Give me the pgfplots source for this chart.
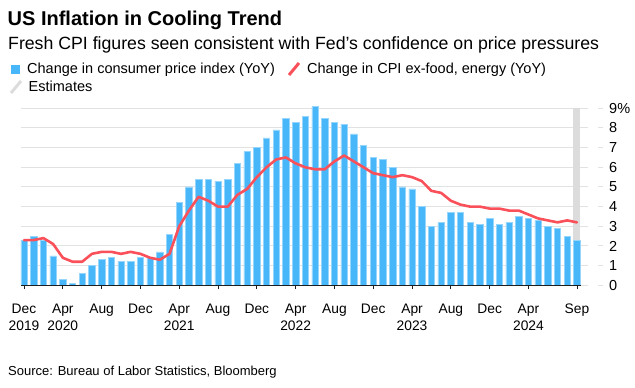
\documentclass[border=0pt]{standalone}
\usepackage{pgfplots}
\pgfplotsset{compat=1.18}
\usepackage{pgfplotstable}
\usepackage{fontspec}
\setmainfont{Liberation Sans}

\definecolor{cpiblue}{RGB}{72,183,250}
\definecolor{cpiedge}{RGB}{150,214,252}
\definecolor{corered}{RGB}{250,80,90}
\definecolor{estgrey}{RGB}{220,220,220}
\definecolor{gridgrey}{RGB}{226,226,226}
\definecolor{axisdark}{RGB}{30,30,30}

\pgfplotstableread{
i cpi core
0 2.3 2.3
1 2.5 2.3
2 2.3 2.4
3 1.5 2.1
4 0.3 1.4
5 0.1 1.2
6 0.6 1.2
7 1.0 1.6
8 1.3 1.7
9 1.4 1.7
10 1.2 1.6
11 1.2 1.7
12 1.4 1.6
13 1.4 1.4
14 1.7 1.3
15 2.6 1.6
16 4.2 3.0
17 5.0 3.8
18 5.4 4.5
19 5.4 4.3
20 5.3 4.0
21 5.4 4.0
22 6.2 4.6
23 6.8 4.9
24 7.0 5.5
25 7.5 6.0
26 7.9 6.4
27 8.5 6.5
28 8.3 6.2
29 8.6 6.0
30 9.1 5.9
31 8.5 5.9
32 8.3 6.3
33 8.2 6.6
34 7.7 6.3
35 7.1 6.0
36 6.5 5.7
37 6.4 5.6
38 6.0 5.5
39 5.0 5.6
40 4.9 5.5
41 4.0 5.3
42 3.0 4.8
43 3.2 4.7
44 3.7 4.3
45 3.7 4.1
46 3.2 4.0
47 3.1 4.0
48 3.4 3.9
49 3.1 3.9
50 3.2 3.8
51 3.5 3.8
52 3.4 3.6
53 3.3 3.4
54 3.0 3.3
55 2.9 3.2
56 2.5 3.3
57 2.3 3.2
}\datatable

\pgfplotstableread{
i est
57 9
}\esttable

\newcommand{\ydash}{\textcolor{gridgrey}{\rule[4.6bp]{5bp}{1bp}}\hspace{6bp}}

\begin{document}
\begin{tikzpicture}
\path[use as bounding box] (0,0) rectangle (635bp,-388bp);

\node[anchor=base west, inner sep=0pt] at (7.5bp,-25bp) {\fontsize{20bp}{24bp}\selectfont\bfseries US Inflation in Cooling Trend};
\node[anchor=base west, inner sep=0pt] at (8bp,-49.5bp) {\fontsize{17.7bp}{21bp}\selectfont Fresh CPI figures seen consistent with Fed’s confidence on price pressures};

\fill[cpiblue] (11bp,-73.5bp) rectangle (20bp,-64.5bp);
\node[anchor=base west, inner sep=0pt] at (27bp,-73.3bp) {\fontsize{14.5bp}{17bp}\selectfont Change in consumer price index (YoY)};
\draw[corered, line width=3bp] (289bp,-75bp) -- (299bp,-63bp);
\node[anchor=base west, inner sep=0pt] at (307bp,-73.3bp) {\fontsize{14.5bp}{17bp}\selectfont Change in CPI ex-food, energy (YoY)};
\draw[estgrey, line width=3bp] (11bp,-93bp) -- (21bp,-81bp);
\node[anchor=base west, inner sep=0pt] at (28.5bp,-91bp) {\fontsize{14.5bp}{17bp}\selectfont Estimates};

\node[anchor=base west, inner sep=0pt] at (8bp,-375bp) {\fontsize{13bp}{16bp}\selectfont Source: Bureau of Labor Statistics, Bloomberg};

\begin{axis}[
  at={(21bp,-285.3bp)}, anchor=south west,
  scale only axis, width=567bp, height=177bp,
  xmin=-0.31, xmax=58.14, ymin=0, ymax=9,
  clip=false,
  axis line style={draw=none},
  ymajorgrids, major grid style={gridgrey, line width=1bp},
  ytick={0,1,2,3,4,5,6,7,8,9},
  yticklabels={\ydash 0,\ydash 1,\ydash 2,\ydash 3,\ydash 4,\ydash 5,\ydash 6,\ydash 7,\ydash 8,\ydash 9\%},
  yticklabel pos=right,
  ytick style={draw=none},
  yticklabel style={anchor=west, inner sep=0pt, xshift=6bp, font=\fontsize{14.5bp}{17bp}\selectfont},
  xtick={0,4,8,12,16,20,24,28,32,36,40,44,48,52,57},
  xticklabels={Dec\\2019,Apr\\2020,Aug\\\phantom{0},Dec\\\phantom{0},Apr\\2021,Aug\\\phantom{0},Dec\\\phantom{0},Apr\\2022,Aug\\\phantom{0},Dec\\\phantom{0},Apr\\2023,Aug\\\phantom{0},Dec\\\phantom{0},Apr\\2024,Sep\\\phantom{0}},
  xtick pos=left,
  xtick style={axisdark, line width=0.8bp},
  tick align=outside, major tick length=4bp,
  xticklabel style={align=center, anchor=north, inner sep=0pt, yshift=-14.3bp, font=\fontsize{13.8bp}{17.5bp}\selectfont},
  bar width=6.4bp, bar shift=0pt,
]
\addplot[ybar, fill=estgrey, draw=none, bar width=7bp] table[x=i, y=est] {\esttable};
\addplot[ybar, fill=cpiblue, draw=cpiedge, line width=0.6bp] table[x=i, y=cpi] {\datatable};
\addplot[corered, line width=2.6bp, line join=round, line cap=round, mark=none] table[x=i, y=core] {\datatable};
\draw[axisdark, line width=0.9bp] (axis cs:-0.31,0) -- (axis cs:57.38,0);
\end{axis}
\end{tikzpicture}
\end{document}
